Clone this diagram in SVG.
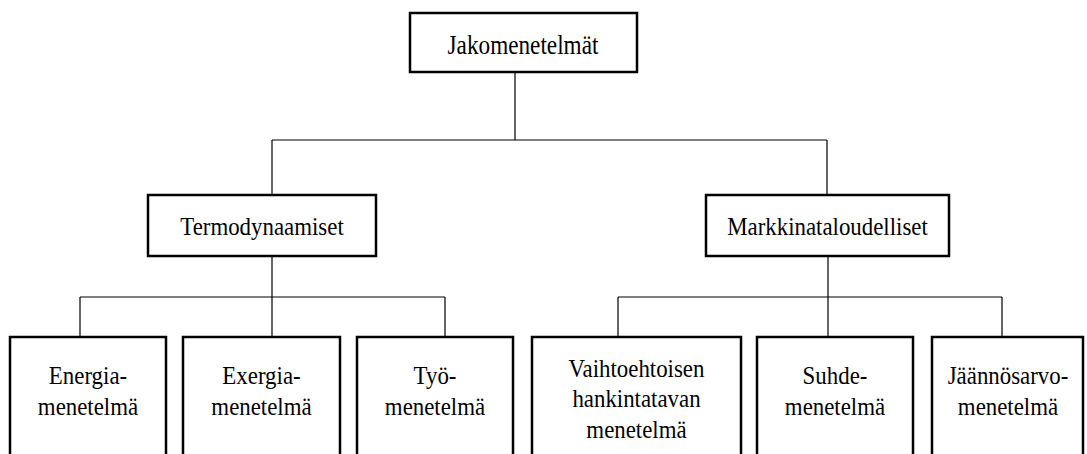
<svg xmlns="http://www.w3.org/2000/svg" width="1087" height="454" viewBox="0 0 1087 454">
  <style>
    .box { fill: #ffffff; stroke: #000000; stroke-width: 2.5; }
    .lbl { font-family: 'Liberation Serif', 'Times New Roman', serif; font-size: 26px; fill: #000000; text-anchor: middle; }
    .conn { fill: none; stroke: #000000; stroke-width: 1.2; }
  </style>
  <rect width="1087" height="454" fill="#ffffff"/>

  <!-- tree connectors -->
  <g id="connectors" class="conn">
    <path d="M515 72 V140 M272 140 H827 M272 140 V195 M827 140 V195"/>
    <path d="M272 256 V297 M80 297 H445 M80 297 V337 M272 297 V337 M445 297 V337"/>
    <path d="M828 256 V297 M618 297 H1002 M618 297 V337 M828 297 V337 M1002 297 V337"/>
  </g>

  <!-- root -->
  <g id="jakomenetelmat">
    <rect class="box" x="410" y="13" width="227" height="59"/>
    <text class="lbl" font-size="27" style="font-size:27px" transform="translate(523 54) scale(0.86 1)">Jakomenetelmät</text>
  </g>

  <!-- second level -->
  <g id="termodynaamiset">
    <rect class="box" x="148" y="195" width="228" height="61"/>
    <text class="lbl" transform="translate(262 235) scale(0.88 1)">Termodynaamiset</text>
  </g>
  <g id="markkinataloudelliset">
    <rect class="box" x="706" y="195" width="243" height="61"/>
    <text class="lbl" transform="translate(827.5 235) scale(0.88 1)">Markkinataloudelliset</text>
  </g>

  <!-- leaves -->
  <g id="energia">
    <rect class="box" x="10" y="337" width="156" height="130"/>
    <text class="lbl" transform="translate(88 384) scale(0.88 1)"><tspan x="0">Energia-</tspan><tspan x="0" dy="31">menetelmä</tspan></text>
  </g>
  <g id="exergia">
    <rect class="box" x="183" y="337" width="157" height="130"/>
    <text class="lbl" transform="translate(261.5 384) scale(0.88 1)"><tspan x="0">Exergia-</tspan><tspan x="0" dy="31">menetelmä</tspan></text>
  </g>
  <g id="tyo">
    <rect class="box" x="357" y="337" width="156" height="130"/>
    <text class="lbl" transform="translate(435 384) scale(0.88 1)"><tspan x="0">Työ-</tspan><tspan x="0" dy="31">menetelmä</tspan></text>
  </g>
  <g id="vaihtoehtoinen">
    <rect class="box" x="532" y="337" width="209" height="130"/>
    <text class="lbl" transform="translate(636.5 377) scale(0.88 1)"><tspan x="0">Vaihtoehtoisen</tspan><tspan x="0" dy="30.5">hankintatavan</tspan><tspan x="0" dy="30.5">menetelmä</tspan></text>
  </g>
  <g id="suhde">
    <rect class="box" x="757" y="337" width="156" height="130"/>
    <text class="lbl" transform="translate(835 384) scale(0.88 1)"><tspan x="0">Suhde-</tspan><tspan x="0" dy="31">menetelmä</tspan></text>
  </g>
  <g id="jaannosarvo">
    <rect class="box" x="932" y="337" width="151" height="130"/>
    <text class="lbl" transform="translate(1008 384) scale(0.88 1)"><tspan x="0">Jäännösarvo-</tspan><tspan x="0" dy="31">menetelmä</tspan></text>
  </g>
</svg>
